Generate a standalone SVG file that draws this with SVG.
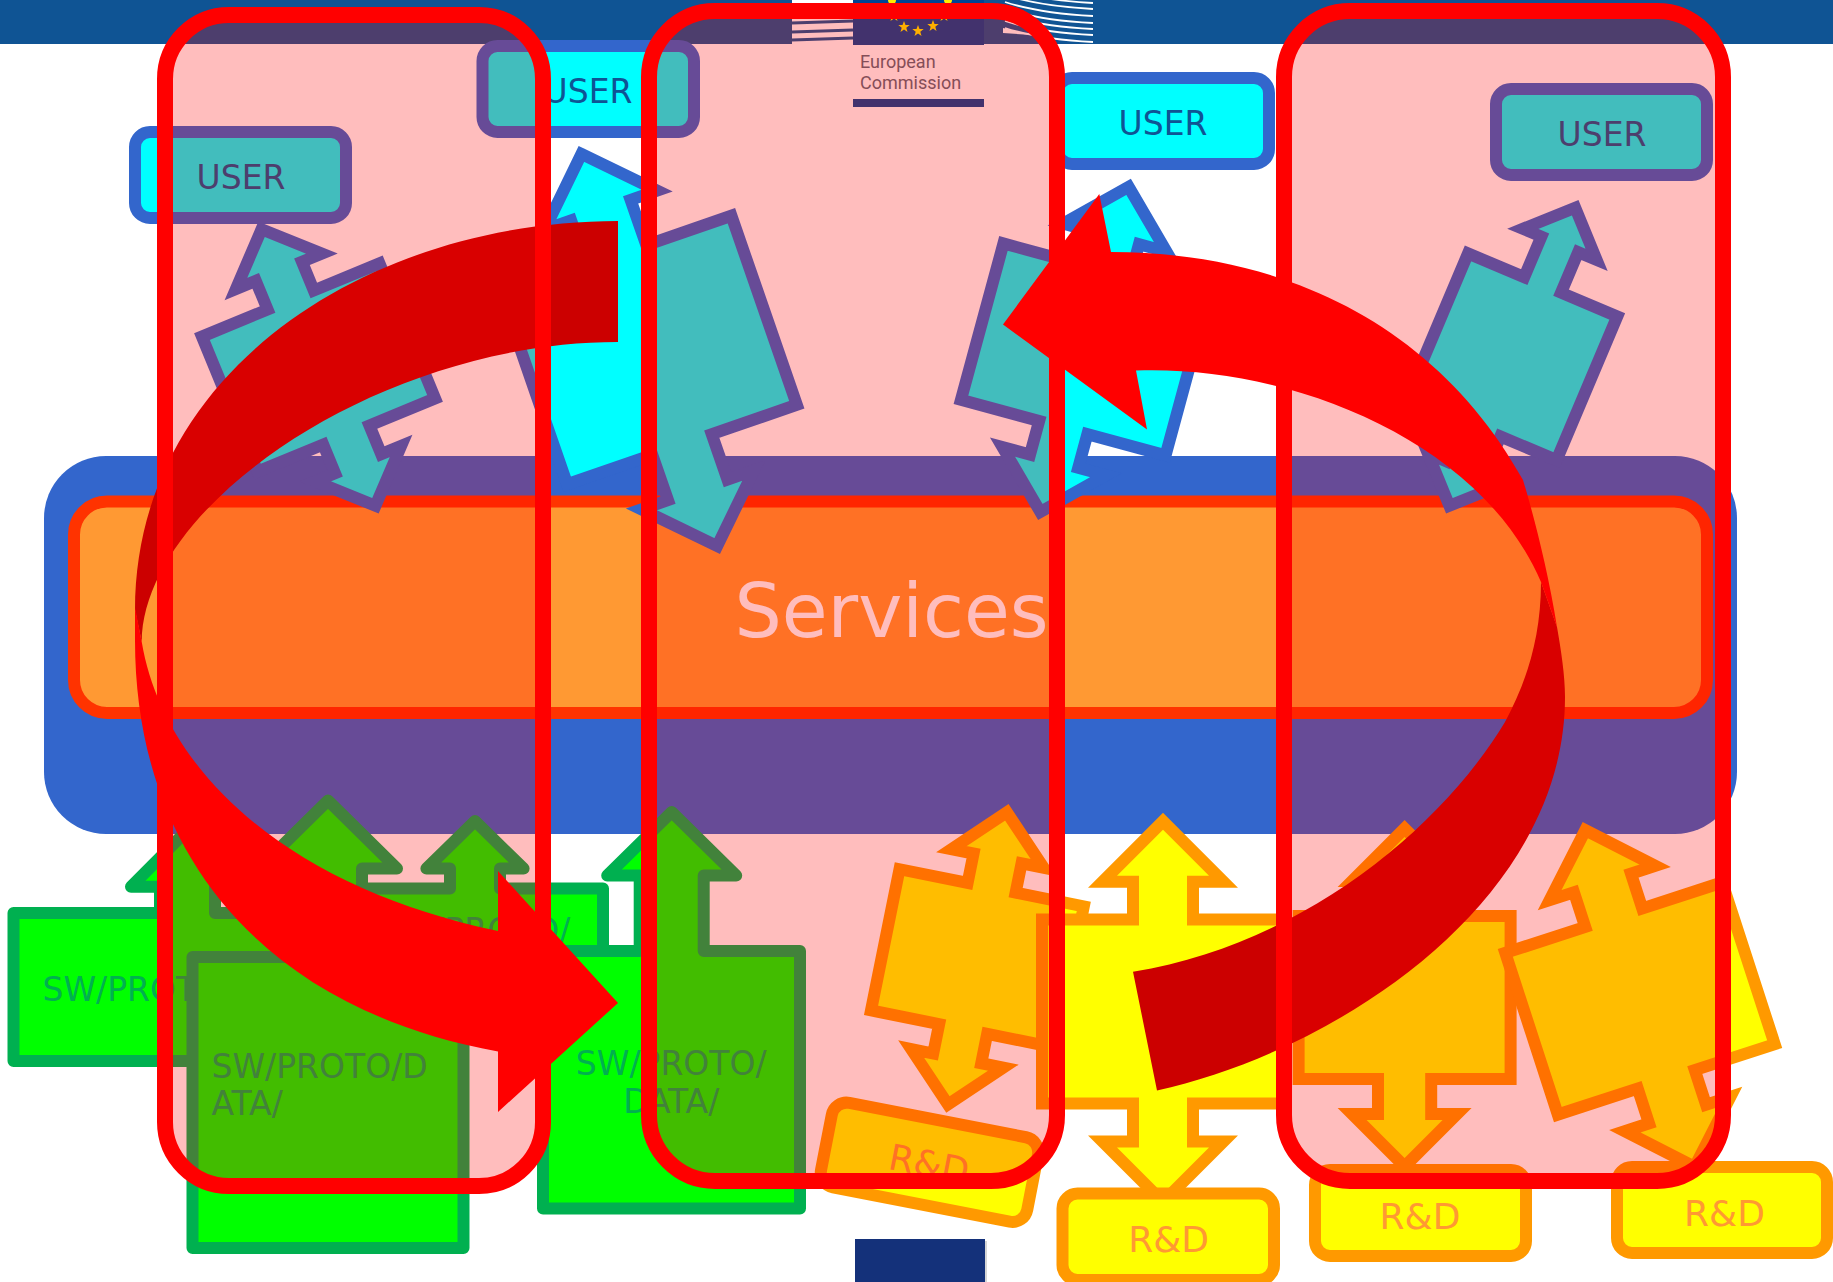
<svg xmlns="http://www.w3.org/2000/svg" xmlns:xlink="http://www.w3.org/1999/xlink" width="1833" height="1282" viewBox="0 0 1833 1282">
<style>
text{font-family:"DejaVu Sans","Liberation Sans",sans-serif}
.u rect{fill:#00ffff;stroke:#3366cc;stroke-width:12}
.u text{font-size:33px;fill:#0f5494;text-anchor:middle}
.ba{fill:#00ffff;stroke:#3366cc;stroke-width:12;stroke-miterlimit:6}
.ya{fill:#ffff00;stroke:#ff9900;stroke-width:12;stroke-miterlimit:6}
.g path{fill:#00ff00;stroke:#00b050;stroke-width:12;stroke-linejoin:round}
.g text{font-size:33px;fill:#00b050}
.r rect{fill:#ffff00;stroke:#ff9900;stroke-width:12}
.r text{font-size:36px;fill:#ff9933;text-anchor:middle}
.f{fill:#ff0000;fill-opacity:.26;stroke:#ff0000;stroke-width:16}
.ec{font-family:Roboto,"Noto Sans",sans-serif;font-size:18px;fill:#5a6a77}
</style>
<defs>
<polygon id="star" points="0,-6 1.5,-1.9 5.7,-1.9 2.3,.7 3.5,4.9 0,2.4 -3.5,4.9 -2.3,.7 -5.7,-1.9 -1.5,-1.9" fill="#ffed00"/>
</defs>
<rect width="1833" height="1282" fill="#ffffff"/>
<g id="header">
<rect x="0" y="0" width="1833" height="44" fill="#0f5494"/>
<rect x="792" y="0" width="61" height="44" fill="#ffffff"/>
<g fill="none" stroke="#0f5494" stroke-width="3">
<path d="M792,23 L853,21"/><path d="M792,32 L853,30"/><path d="M792,40 L853,38"/>
</g>
<g fill="none" stroke="#ffffff" stroke-width="1.8">
<path d="M1005,-11 C1030,-3 1055,1 1093,3"/>
<path d="M1005,-5 C1030,3 1055,7 1093,9"/>
<path d="M1005,2 C1030,10 1055,14 1093,16"/>
<path d="M1005,9 C1030,17 1055,21 1093,23"/>
<path d="M1005,15 C1030,23 1055,27 1093,29"/>
<path d="M1005,21 C1030,29 1055,33 1093,35"/>
<path d="M1005,28 C1030,36 1055,40 1093,42"/>
</g>
<polygon points="1003,28 1032,35 1003,33" fill="#ffffff"/>
</g>
<g id="logo">
<rect x="853" y="0" width="131" height="45" fill="#004494"/>
<circle cx="892" cy="0" r="4" fill="#ffed00"/><circle cx="948" cy="0" r="4" fill="#ffed00"/>
<use xlink:href="#star" href="#star" x="894" y="16"/><use xlink:href="#star" href="#star" x="944" y="16"/>
<use xlink:href="#star" href="#star" x="904" y="27"/><use xlink:href="#star" href="#star" x="918" y="31"/><use xlink:href="#star" href="#star" x="933" y="26"/>
<text class="ec" x="860" y="68">European</text>
<text class="ec" x="860" y="89">Commission</text>
<rect x="853" y="99" width="131" height="8" fill="#004494"/>
</g>
<g id="footer-logo">
<rect x="857" y="1241" width="130" height="41" fill="#777777" opacity=".3"/>
<rect x="855" y="1239" width="130" height="43" fill="#14317a"/>
</g>
<g id="services">
<rect x="44" y="456" width="1693" height="378" rx="62" fill="#3366cc"/>
<rect x="74" y="501.5" width="1633" height="211.5" rx="33" fill="#ff9933" stroke="#ff3300" stroke-width="12"/>
<text x="891.5" y="637" font-size="74.5" fill="#ffffff" text-anchor="middle">Services</text>
</g>
<g id="connectors">
<polygon class="ba" transform="translate(318.5 367.5) rotate(-22.4)" points="0,-149.5 46.5,-104 25,-104 25,-73 96,-73 96,73 25,73 25,104 46.5,104 0,149.5 -46.5,104 -25,104 -25,73 -96,73 -96,-73 -25,-73 -25,-104 -46.5,-104"/>
<polygon class="ba" transform="translate(649.3 350) rotate(-19.1)" points="0,-207.5 59.5,-148 31.5,-148 31.5,-100 121.5,-100 121.5,100 31.5,100 31.5,148 59.5,148 0,207.5 -59.5,148 -31.5,148 -31.5,100 -121.5,100 -121.5,-100 -31.5,-100 -31.5,-148 -59.5,-148"/>
<polygon class="ba" transform="translate(1084.5 349.4) rotate(15.2)" points="0,-168.4 53.5,-115.8 25,-115.8 25,-81 106,-81 106,81 25,81 25,115.8 53.5,115.8 0,168.4 -53.5,115.8 -25,115.8 -25,81 -106,81 -106,-81 -25,-81 -25,-115.8 -53.5,-115.8"/>
<polygon class="ba" transform="translate(1512.3 356.75) rotate(22.9)" points="0,-161.7 40,-122 20,-122 20,-78 81,-78 81,78 20,78 20,122 40,122 0,161.7 -40,122 -20,122 -20,78 -81,78 -81,-78 -20,-78 -20,-122 -40,-122"/>
<polygon class="ya" transform="translate(977.4 958.4) rotate(11.4)" points="0,-149 47,-102 24.5,-102 24.5,-72 94,-72 94,72 24.5,72 24.5,102 47,102 0,149 -47,102 -24.5,102 -24.5,72 -94,72 -94,-72 -24.5,-72 -24.5,-102 -47,-102"/>
<polygon class="ya" transform="translate(1163 1011.6)" points="0,-190.3 60.5,-129.8 30,-129.8 30,-92 121,-92 121,92 30,92 30,129.8 60.5,129.8 0,190.3 -60.5,129.8 -30,129.8 -30,92 -121,92 -121,-92 -30,-92 -30,-129.8 -60.5,-129.8"/>
<polygon class="ya" transform="translate(1404.6 997.5)" points="0,-169 52.5,-116.5 26.6,-116.5 26.6,-81.5 106,-81.5 106,81.5 26.6,81.5 26.6,116.5 52.5,116.5 0,169 -52.5,116.5 -26.6,116.5 -26.6,81.5 -106,81.5 -106,-81.5 -26.6,-81.5 -26.6,-116.5 -52.5,-116.5"/>
<polygon class="ya" transform="translate(1640 998.5) rotate(-18)" points="0,-177 55.5,-121.5 30,-121.5 30,-85 114,-85 114,85 30,85 30,121.5 55.5,121.5 0,177 -55.5,121.5 -30,121.5 -30,85 -114,85 -114,-85 -30,-85 -30,-121.5 -55.5,-121.5"/>
</g>
<g id="user-a" class="u"><rect x="135" y="132" width="211" height="86" rx="15"/><text x="241" y="189">USER</text></g>
<g id="user-b" class="u"><rect x="482.5" y="46" width="211.5" height="86" rx="15"/><text x="588" y="102.5">USER</text></g>
<g id="user-c" class="u"><rect x="1057" y="78" width="212" height="86" rx="15"/><text x="1163" y="134.5">USER</text></g>
<g id="user-d" class="u"><rect x="1496" y="89" width="211" height="86" rx="15"/><text x="1602" y="145.5">USER</text></g>
<g id="sw-a" class="g"><path d="M187.5,830 L244,886.7 L215,886.7 L215,913 L361.5,913 L361.5,1061 L13.5,1061 L13.5,913 L160,913 L160,886.7 L131,886.7 Z"/><text x="42.5" y="1000.5">SW/PROTO/DATA/</text></g>
<g id="sw-c" class="g"><path d="M475,821 L523.6,868.6 L500,868.6 L500,888.4 L603,888.4 L603,1034 L347,1034 L347,888.4 L450,888.4 L450,868.6 L426.4,868.6 Z"/><text x="475" y="942" text-anchor="middle">SW/PROTO/</text></g>
<g id="sw-b" class="g"><path d="M328,800.5 L397,868.6 L362,868.6 L362,957 L463.5,957 L463.5,1248 L192.5,1248 L192.5,957 L294,957 L294,868.6 L259,868.6 Z"/><text x="211.5" y="1078">SW/PROTO/D</text><text x="211.5" y="1114.5">ATA/</text></g>
<g id="sw-d" class="g"><path d="M671.7,812 L736.2,875.6 L703.7,875.6 L703.7,951 L800,951 L800,1208.5 L543,1208.5 L543,951 L639.7,951 L639.7,875.6 L607.2,875.6 Z"/><text x="671.2" y="1075" text-anchor="middle">SW/PROTO/</text><text x="671.2" y="1112.5" text-anchor="middle">DATA/</text></g>
<g id="rd-e" class="r" transform="translate(929.5 1162.3) rotate(11)"><rect x="-105" y="-43" width="210" height="86" rx="15"/><text x="0" y="14.3">R&amp;D</text></g>
<g id="rd-f" class="r"><rect x="1062.5" y="1193.5" width="211.5" height="86.5" rx="15"/><text x="1168.6" y="1252">R&amp;D</text></g>
<g id="rd-g" class="r"><rect x="1315" y="1170" width="211" height="86" rx="15"/><text x="1420" y="1228.5">R&amp;D</text></g>
<g id="rd-k" class="r"><rect x="1617" y="1167" width="210" height="86" rx="15"/><text x="1724.5" y="1225.5">R&amp;D</text></g>
<g id="cycle-arrows">
<path fill="#cc0000" d="M618,221 C370,221 135,370 135,610 L141.7,641.7 C143,505 380,342 618,342 Z"/>
<path fill="#ff0000" d="M141.7,641.7 C165,780 300,890 498,931 L498,871 L618,1003 L498,1112 L498,1051.5 C270,1010 135,860 135,640 L135,607 Z"/>
<path fill="#cc0000" d="M1133,971.7 C1300,945 1440,830 1505,722 C1525,685 1541,640 1541,582 L1557,627 C1561,650 1565,675 1565,697 C1565,900 1340,1050 1157,1090.4 Z"/>
<path fill="#ff0000" d="M1111,252 C1290,252 1440,330 1523,480 C1533,513 1548,570 1557,627 L1541,582 C1480,440 1290,365 1136,370.6 L1147,429.4 L1003,324.5 L1099.3,193.9 Z"/>
</g>
<g id="frames">
<rect class="f" x="165" y="15" width="378" height="1171" rx="64"/>
<rect class="f" x="649" y="11" width="408" height="1170" rx="66"/>
<rect class="f" x="1284" y="11" width="439" height="1170" rx="66"/>
</g>
</svg>
